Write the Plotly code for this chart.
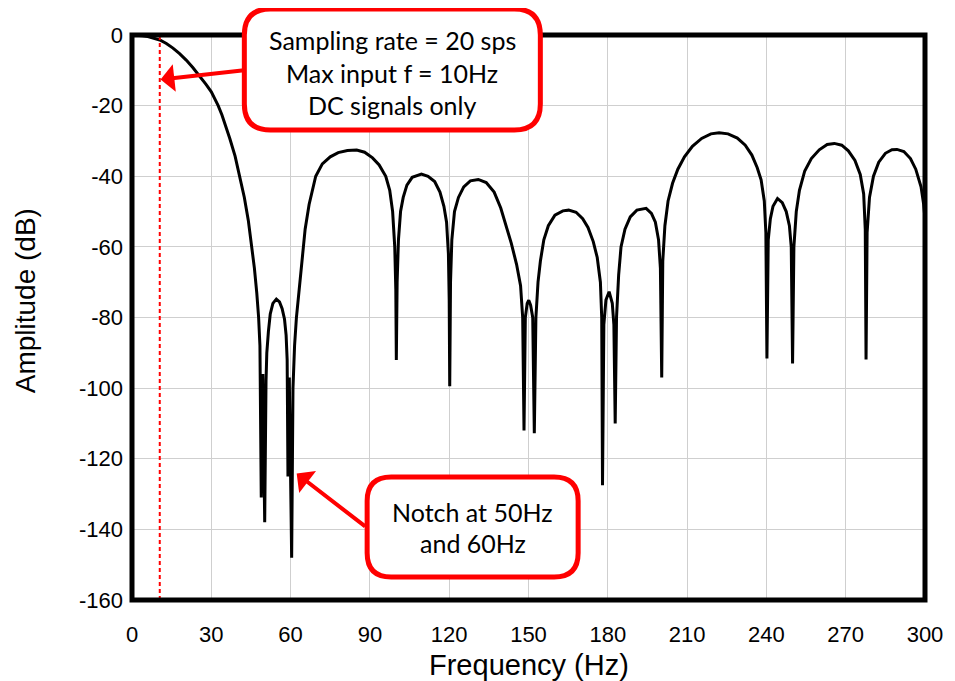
import plotly.graph_objects as go

# ---- data ----
freq_hz = [0, 2, 4, 6, 8, 10.5, 13, 15.5, 18, 20.5, 23, 25.5, 28, 30, 31.3, 32.6, 34, 35.5, 37,
           39, 40.8, 42.5, 44, 45.2, 46.3, 47.2, 47.9, 48.4, 48.9, 49.5, 50.2, 50.7, 51.0, 51.6,
           52.3, 53.3, 54.6, 55.8, 56.8, 57.7, 58.3, 58.7, 59.0, 59.5, 60.4,
           60.9, 61.5, 62.2, 63.3, 64.4, 65.5, 67, 69.5, 72, 75, 78, 81.5, 85, 88, 91, 93.5, 96,
           97.5, 98.6, 99.4, 99.8, 100.0,
           100.3, 100.8, 101.6, 102.6, 104, 106, 109.5, 112, 114.5, 116.5, 118, 119, 119.7, 120.0,
           120.2,
           120.5, 121, 122, 123.5, 125.5, 128, 131, 134, 137, 139.5, 141.5, 143.5, 145.5, 147,
           147.8, 148.3,
           148.8, 149.5, 150.1, 150.8, 151.6, 152.2,
           152.8, 153.6, 154.5, 155.8, 157.5, 160, 163, 165.2, 168, 170.5, 172.5, 174.5, 176,
           177.2, 177.7, 178.0,
           178.5, 179.3, 180.5, 181.7, 182.3, 182.8,
           183.3, 184.1, 185, 186.5, 188.5, 191, 194.5, 196.5, 198, 199.2, 199.9, 200.4,
           200.8, 201.6, 202.8, 204.5, 206.5, 209, 212, 215.5, 219, 222.1, 225.5, 229, 232, 234.5,
           236.5, 238, 239.2, 239.8, 240.2,
           240.7, 241.5, 242.5, 244.2, 246, 247.5, 248.7, 249.4, 249.9,
           250.4, 251.3, 252.5, 254.5, 257, 260, 263, 265.7, 268.5, 271, 273.5, 275.5, 276.8,
           277.4, 277.7,
           278.1, 279, 280.5, 282.5, 285, 287.5, 289.4, 292, 294.5, 296.5, 298.5, 299.5, 300]
amp_db = [0, -0.05, -0.2, -0.45, -0.8, -1.4, -2.4, -3.7, -5.3, -7.1, -9.2, -11.5, -14.0, -16.1,
          -17.9, -20, -22.6, -25.7, -29.3, -34.3, -40, -46, -52.5, -59, -66, -73, -80, -88, -131,
          -96, -138, -98, -90, -84, -79, -76, -74.8, -75.6, -77.5, -80.5, -85, -92, -125, -97,
          -148,
          -100, -88, -80, -71, -62, -55, -48, -40, -36.5, -34.5, -33.3, -32.7, -32.6, -33.2,
          -34.8, -36.8, -40, -44, -50, -60, -72, -92,
          -70, -58, -50, -46, -42.5, -40.3, -39.4, -40, -41.5, -44.5, -48.5, -53, -62, -75, -99.5,
          -70, -58, -50, -46, -43, -41.3, -40.9, -41.8, -44.5, -49, -54, -59, -65, -71, -80, -112,
          -80, -76, -75.1, -76.5, -80, -112.8,
          -80, -70, -64, -58, -54, -51, -49.8, -49.6, -50.2, -52, -54.5, -58.5, -63, -70, -80,
          -127.5,
          -82, -75, -72.7, -76, -82, -110,
          -80, -68, -60, -55, -51.5, -49.6, -49.1, -50.5, -53, -58, -66, -97,
          -64, -54, -47, -42, -38, -34.5, -31.5, -29.3, -28, -27.7, -28, -29.2, -31.2, -34,
          -37.5, -41, -47, -56, -91.6,
          -58, -52, -48.5, -46.3, -47.5, -50, -54, -60, -93,
          -60, -50, -44, -38.5, -35, -32.5, -31, -30.7, -31.2, -32.8, -35.5, -39.5, -45,
          -55, -91.9,
          -56, -46, -40, -36, -33.5, -32.5, -32.4, -33, -35, -38, -43, -48, -52]

x_ticks = [0, 30, 60, 90, 120, 150, 180, 210, 240, 270, 300]
y_ticks = [0, -20, -40, -60, -80, -100, -120, -140, -160]
x_title = "Frequency (Hz)"
y_title = "Amplitude (dB)"
max_input_hz = 10.5
box1_lines = ["Sampling rate = 20 sps", "Max input f = 10Hz", "DC signals only"]
box2_lines = ["Notch at 50Hz", "and 60Hz"]

# ---- layout geometry (screen pixels; page body has an 8px margin) ----
OFF = 8
SW, SH = 955, 681
PL, PR, PT, PB = 132, 927, 35, 600          # plot area on screen
W, H = SW - OFF, SH - OFF
L, T = PL - OFF, PT - OFF
R, B = OFF + W - PR, OFF + H - PB
PW, PH = PR - PL, PB - PT


def px_to_paper(xp, yp):
    return (xp - PL) / PW, (PB - yp) / PH


def rrect(hw, hh, r):
    return (f"M{-hw + r},{-hh} L{hw - r},{-hh} Q{hw},{-hh} {hw},{-hh + r} "
            f"L{hw},{hh - r} Q{hw},{hh} {hw - r},{hh} L{-hw + r},{hh} "
            f"Q{-hw},{hh} {-hw},{hh - r} L{-hw},{-hh + r} Q{-hw},{-hh} {-hw + r},{-hh} Z")


fig = go.Figure()
fig.add_trace(go.Scatter(x=freq_hz, y=amp_db, mode="lines",
                         line=dict(color="black", width=3), showlegend=False))

axis_font = dict(family="Liberation Sans, Arial, sans-serif", size=22, color="black")
title_font = dict(family="Liberation Sans, Arial, sans-serif", size=29, color="black")

fig.update_layout(
    width=W, height=H,
    margin=dict(l=L, r=R, t=T, b=B, pad=0),
    paper_bgcolor="white", plot_bgcolor="white",
    xaxis=dict(range=[0, 300], tickvals=x_ticks, ticktext=[str(v) for v in x_ticks],
               showgrid=True, gridcolor="#cfcfcf", gridwidth=1, zeroline=False,
               showline=False, ticks="", tickfont=axis_font, ticklabelstandoff=19),
    yaxis=dict(range=[-160, 0], tickvals=y_ticks, ticktext=[str(v) for v in y_ticks],
               showgrid=True, gridcolor="#cfcfcf", gridwidth=1, zeroline=False,
               showline=False, ticks="", tickfont=axis_font, ticklabelstandoff=8),
)

shapes = []
shapes.append(dict(type="line", xref="x", yref="paper", x0=max_input_hz, x1=max_input_hz,
                   y0=0, y1=1, line=dict(color="red", width=2, dash="4px,3px"), layer="above"))
shapes.append(dict(type="rect", xref="paper", yref="paper", x0=0, x1=1, y0=0, y1=1,
                   line=dict(color="black", width=5), layer="above"))
bx1, by1 = px_to_paper(393, 69.5)
bx2, by2 = px_to_paper(473.5, 527)
shapes.append(dict(type="path", xref="paper", yref="paper", xsizemode="pixel", ysizemode="pixel",
                   xanchor=bx1, yanchor=by1, path=rrect(148, 60.5, 26),
                   fillcolor="white", line=dict(color="red", width=5), layer="above"))
shapes.append(dict(type="path", xref="paper", yref="paper", xsizemode="pixel", ysizemode="pixel",
                   xanchor=bx2, yanchor=by2, path=rrect(105.5, 50, 24),
                   fillcolor="white", line=dict(color="red", width=5), layer="above"))
fig.update_layout(shapes=shapes)

anns = []
tx, ty = px_to_paper((PL + PR) / 2, 665)
anns.append(dict(text=x_title, xref="paper", yref="paper", x=tx, y=ty, showarrow=False,
                 xanchor="center", yanchor="middle", font=title_font))
tx, ty = px_to_paper(25, 301)
anns.append(dict(text=y_title, xref="paper", yref="paper", x=tx, y=ty, showarrow=False,
                 xanchor="center", yanchor="middle", textangle=-90,
                 font=dict(title_font, size=28)))

box_font = dict(family="Lato, Open Sans, sans-serif", size=25, color="black")
for txt, yp in zip(box1_lines, [40, 73, 105]):
    ax_, ay_ = px_to_paper(393, yp)
    anns.append(dict(text=txt, xref="paper", yref="paper", x=ax_, y=ay_, showarrow=False,
                     xanchor="center", yanchor="middle", font=box_font))
for txt, yp in zip(box2_lines, [512, 543]):
    ax_, ay_ = px_to_paper(473.5, yp)
    anns.append(dict(text=txt, xref="paper", yref="paper", x=ax_, y=ay_, showarrow=False,
                     xanchor="center", yanchor="middle", font=box_font))
anns.append(dict(text="", xref="x", yref="y", x=10.8, y=-12.6, ax=85, ay=-9.5,
                 showarrow=True, arrowhead=1, arrowsize=1.15, arrowwidth=4, arrowcolor="red",
                 standoff=0))
anns.append(dict(text="", xref="x", yref="y", x=62.3, y=-124.2, ax=70, ay=54,
                 showarrow=True, arrowhead=1, arrowsize=1.15, arrowwidth=4, arrowcolor="red",
                 standoff=0))
fig.update_layout(annotations=anns)

fig.write_html("out.html")
